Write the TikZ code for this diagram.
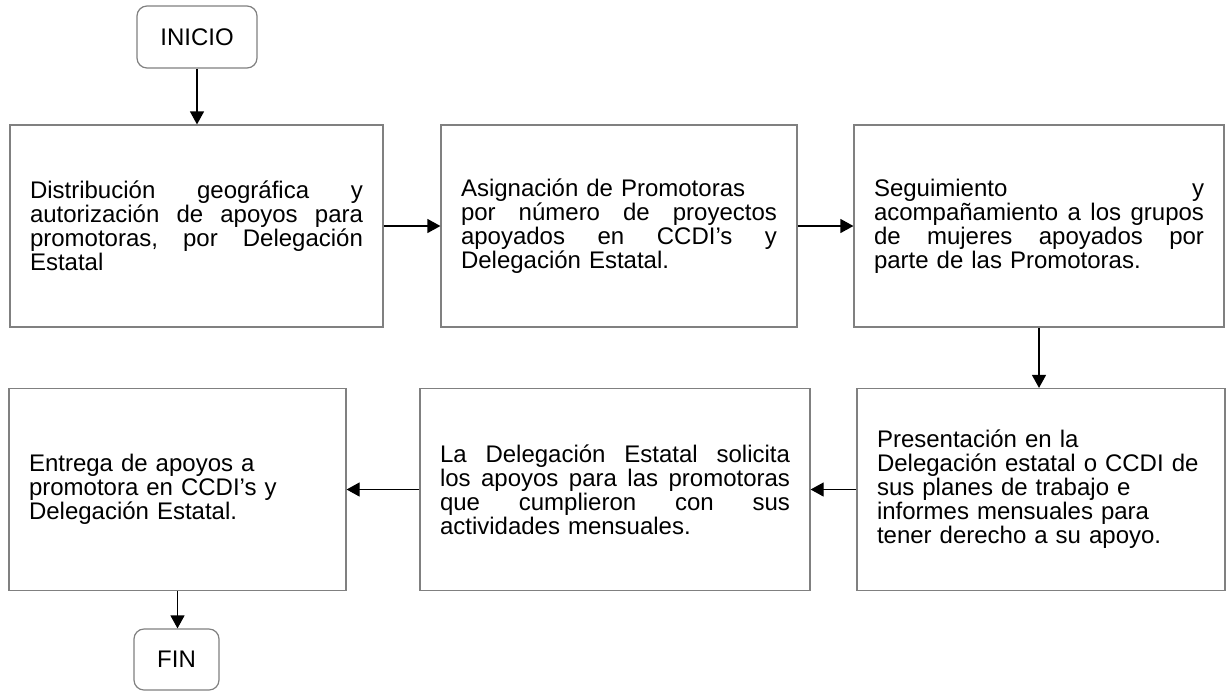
\documentclass[tikz,border=0pt]{standalone}
\usepackage{fontspec}
\setmainfont{Liberation Sans}
\usetikzlibrary{positioning, shapes, arrows.meta}
% linea justificada de ancho dado
\newcommand{\justa}[2]{\leavevmode\hbox to #1{#2}}

\begin{document}
\begin{tikzpicture}[x=0.5pt, y=-0.5pt,
        caja/.style={draw=black!50, line width=0.6pt, align=left, inner xsep=10pt,
            minimum height=101pt, font=\fontsize{12}{12}\selectfont},
        extremo/.style={draw=black!50, line width=0.6pt, rounded corners=5pt,
            font=\fontsize{12}{13}\selectfont},
        flecha/.style={-{Triangle[length=6.5pt, width=7pt]}, line width=0.6pt}]
        \useasboundingbox (0,0) rectangle (1230,692);

        \node[extremo, minimum width=60pt, minimum height=31pt] (inicio) at (197,37) {INICIO};

        \node[caja, text width=166.5pt] (dist) at (196.5,226)
            {\justa{166.5pt}{Distribución\hfill geográfica\hfill y}\\
             \justa{166.5pt}{autorización\hfill de\hfill apoyos\hfill para}\\
             \justa{166.5pt}{promotoras,\hfill por\hfill Delegación}\\ Estatal};
        \node[caja, text width=158pt] (asig) at (619,226)
            {Asignación de Promotoras\\ \justa{158pt}{por\hfill número\hfill de\hfill proyectos}\\
             \justa{158pt}{apoyados\hfill en\hfill CCDI’s\hfill y}\\ Delegación Estatal.};
        \node[caja, text width=165pt] (segui) at (1039,226)
            {\justa{165pt}{Seguimiento\hfill y}\\ \justa{165pt}{acompañamiento\hfill a\hfill los\hfill grupos}\\
             \justa{165pt}{de\hfill mujeres\hfill apoyados\hfill por}\\ parte de las Promotoras.};

        \node[caja, text width=164pt] (pres) at (1041,489.5)
            {Presentación en la\\ Delegación estatal o CCDI de\\ sus planes de trabajo e\\
             informes mensuales para\\ tener derecho a su apoyo.};
        \node[caja, text width=175pt] (solic) at (615,489.5)
            {\justa{175pt}{La\hfill Delegación\hfill Estatal\hfill solicita}\\
             \justa{175pt}{los\hfill apoyos\hfill para\hfill las\hfill promotoras}\\
             \justa{175pt}{que\hfill cumplieron\hfill con\hfill sus}\\ actividades mensuales.};
        \node[caja, text width=148.5pt] (entrega) at (177.5,489.5)
            {Entrega de apoyos a\\ promotora en CCDI’s y\\ Delegación Estatal.};

        \node[extremo, minimum width=42.5pt, minimum height=30.5pt] (fin) at (176.5,659.5) {FIN};

        \draw[flecha] (inicio.south) -- (inicio.south |- dist.north);
        \draw[flecha] (dist.east) -- (asig.west);
        \draw[flecha] (asig.east) -- (segui.west);
        \draw[flecha] (segui.south) -- (segui.south |- pres.north);
        \draw[flecha] (pres.west) -- (solic.east);
        \draw[flecha] (solic.west) -- (entrega.east);
        \draw[flecha] (entrega.south) -- (entrega.south |- fin.north);
    \end{tikzpicture}
\end{document}
